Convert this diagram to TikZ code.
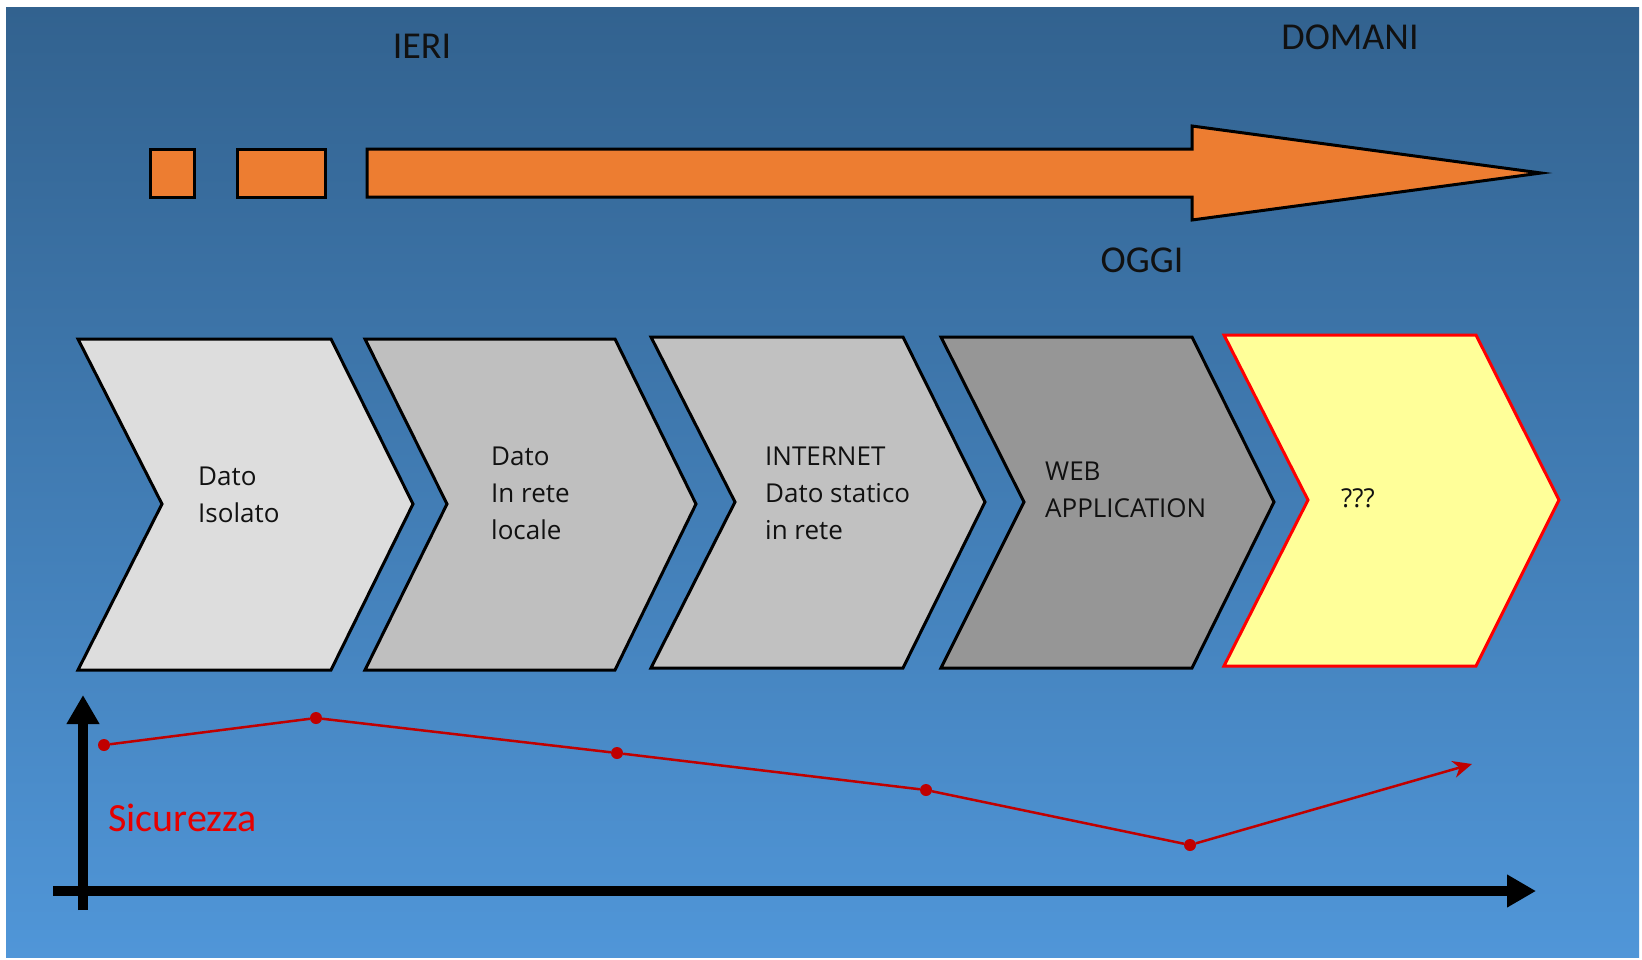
\documentclass[tikz,border=0pt]{standalone}
\usepackage{fontspec}
\setmainfont{Carlito}
\newfontfamily\chevfont{Open Sans}
\usetikzlibrary{arrows.meta}
\definecolor{bgtop}{RGB}{50,98,143}
\definecolor{bgbot}{RGB}{80,150,216}
\definecolor{orangefill}{RGB}{237,125,49}
\definecolor{chevA}{RGB}{221,221,221}
\definecolor{chevB}{RGB}{191,191,191}
\definecolor{chevC}{RGB}{193,193,193}
\definecolor{chevD}{RGB}{150,150,150}
\definecolor{chevE}{RGB}{255,255,153}
\definecolor{trendred}{RGB}{192,0,0}
\definecolor{labelred}{RGB}{230,0,0}
\definecolor{textdark}{RGB}{17,17,17}
\begin{document}
\begin{tikzpicture}[x=1pt,y=-1pt,
  orbox/.style={draw=black, line width=3pt, fill=orangefill, line join=miter},
  chev/.style={draw=black, line width=3pt, line join=miter},
  title/.style={inner sep=0pt, text=textdark, font=\fontsize{38}{46}\selectfont},
  chevtext/.style={inner sep=0pt, anchor=base west, text=textdark, font=\chevfont\fontsize{26}{37}\selectfont},
  dot/.style={circle, fill=trendred, inner sep=0pt, minimum size=12pt},
  trend/.style={draw=trendred, line width=2.5pt},
  axis/.style={draw=black, line width=10pt, -{Triangle[length=29pt,width=31pt]}}]
\useasboundingbox (0,0) rectangle (1642,959);
\fill[white] (0,0) rectangle (1642,959);
\shade[top color=bgtop, bottom color=bgbot] (6,7) rectangle (1639,957);

% top timeline arrow
\draw[orbox] (150,149) rectangle (194,197);
\draw[orbox] (237,149) rectangle (325,197);
\draw[orbox] (367,149) -- (1192,149) -- (1192,126) -- (1541,173) -- (1192,220) -- (1192,197) -- (367,197) -- cycle;

\node[title] (ieri) at (422,46) {IERI};
\node[title] (domani) at (1350,37) {DOMANI};
\node[title] (oggi) at (1142,260) {OGGI};

% chevrons
\draw[chev, fill=chevA] (78,339) -- (331,339) -- (413,504) -- (331,670) -- (78,670) -- (162,504) -- cycle;
\draw[chev, fill=chevB] (365,339) -- (615,339) -- (696,504) -- (615,670) -- (365,670) -- (447,504) -- cycle;
\draw[chev, fill=chevC] (651,337) -- (903,337) -- (985,502) -- (903,668) -- (651,668) -- (735,502) -- cycle;
\draw[chev, fill=chevD] (941,337) -- (1192,337) -- (1274,502) -- (1192,668) -- (941,668) -- (1024,502) -- cycle;
\draw[chev, draw=red, fill=chevE] (1224,335) -- (1476,335) -- (1559,500) -- (1476,666) -- (1224,666) -- (1308,500) -- cycle;

\node[chevtext] (t1) at (198,485) {\begin{tabular}[t]{@{}l@{}}Dato\\Isolato\end{tabular}};
\node[chevtext] (t2) at (491,465) {\begin{tabular}[t]{@{}l@{}}Dato\\In rete\\locale\end{tabular}};
\node[chevtext] (t3) at (765,465) {\begin{tabular}[t]{@{}l@{}}INTERNET\\Dato statico\\in rete\end{tabular}};
\node[chevtext] (t4) at (1045,480) {\begin{tabular}[t]{@{}l@{}}WEB\\APPLICATION\end{tabular}};
\node[chevtext] (t5) at (1341,507) {???};

% axes
\coordinate (yaxb) at (83,910);
\coordinate (yaxt) at (83,695);
\coordinate (xaxl) at (53,891);
\coordinate (xaxr) at (1536,891);
\draw[axis] (yaxb) -- (yaxt);
\draw[axis] (xaxl) -- (xaxr);

\node[inner sep=0pt, anchor=base west, text=labelred, font=\fontsize{40}{46}\selectfont] (sic) at (108,831) {Sicurezza};

% trend line
\node[dot] (p1) at (104,745) {};
\node[dot] (p2) at (316,718) {};
\node[dot] (p3) at (617,753) {};
\node[dot] (p4) at (926,790) {};
\node[dot] (p5) at (1190,845) {};
\coordinate (pend) at (1472,764);
\draw[trend] (p1) -- (p2) -- (p3) -- (p4) -- (p5);
\draw[trend, -{Stealth[length=19pt,width=17pt,inset=6pt]}] (p5) -- (pend);
\end{tikzpicture}
\end{document}
